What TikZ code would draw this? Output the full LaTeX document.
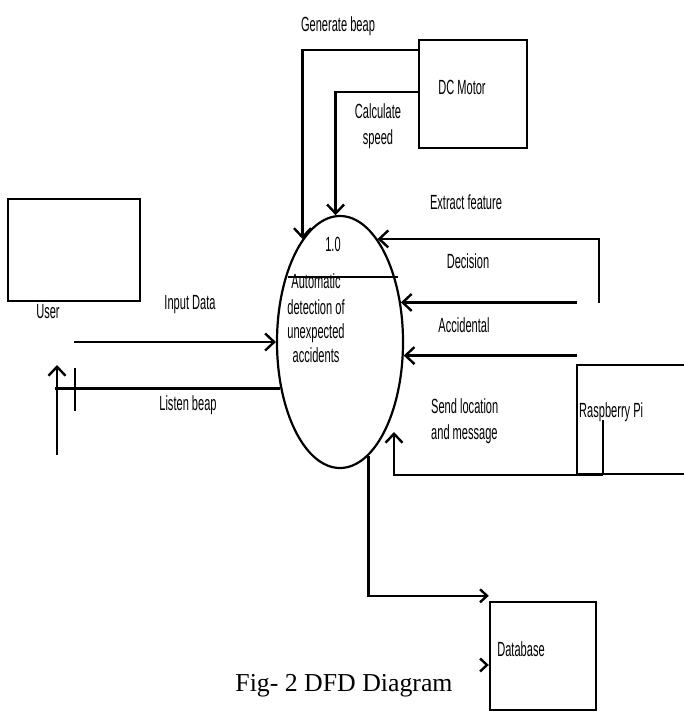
\documentclass[tikz,border=0pt]{standalone}
\usepackage{fontspec}
\usetikzlibrary{arrows.meta,shapes.geometric}
\newfontfamily\narrowfont[FakeStretch=0.54]{Liberation Sans}
\newfontfamily\capfont{Liberation Serif}
\begin{document}
\begin{tikzpicture}[x=1pt,y=-1pt,
  lbl/.style={inner sep=0pt, font=\narrowfont\fontsize{20.5}{24}\selectfont},
  box/.style={draw, line width=2.4pt, inner sep=0pt},
  conn/.style={line width=2.4pt},
  thinconn/.style={line width=1.6pt},
  arr/.style={conn, -{Straight Barb[length=9pt,width=17pt]}},
  sarr/.style={conn, -{Straight Barb[length=7pt,width=13pt]}},
]
\useasboundingbox (0,0) rectangle (684,711);
\clip (0,0) rectangle (684,711);

% boxes
\node[box, minimum width=132pt, minimum height=102pt] (user) at (74,250) {};
\node[box, minimum width=108pt, minimum height=108pt] (dc) at (473,94) {};
\node[box, minimum width=123pt, minimum height=109pt] (rp) at (638.5,419.5) {};
\node[box, minimum width=106pt, minimum height=108pt] (db) at (543,656) {};

% process
\node[draw, ellipse, line width=2.2pt, minimum width=126pt, minimum height=252pt, inner sep=0pt] (proc) at (340,342) {};
\draw[conn] ([xshift=-52pt,yshift=65pt]proc.center) -- ([xshift=58pt,yshift=65pt]proc.center);

% texts
\node[lbl] (tuser) at (48,312) {User};
\node[lbl] (tdc) at (462,87) {DC Motor};
\node[lbl, anchor=west] (trp) at (579,412) {Raspberry Pi};
\node[lbl] (tdb) at (521,649) {Database};
\node[lbl] (tnum) at (333,244) {1.0};
\node[lbl, align=center] (tproc) at (316,318) {Automatic\\[2pt]detection of\\unexpected\\accidents};
\node[lbl] (tgen) at (338,26) {Generate beap};
\node[lbl, align=center] (tcalc) at (378,126) {Calculate\\[2pt]speed};
\node[lbl] (text) at (466,202) {Extract feature};
\node[lbl] (tdec) at (468,261) {Decision};
\node[lbl] (tacc) at (464,325) {Accidental};
\node[lbl, align=left, anchor=west] (tsend) at (431,421) {Send location\\[2pt]and message};
\node[lbl] (tin) at (190,305) {Input Data};
\node[lbl] (tlis) at (188,405) {Listen beap};
\node[inner sep=0pt, font=\capfont\fontsize{25.8}{30}\selectfont] (cap) at (344,686) {Fig- 2 DFD Diagram};

% connectors
\draw[arr] ([yshift=44pt]dc.west) -| (proc.110);
\draw[arr] ([yshift=2pt]dc.west) -| (proc.92);

\coordinate (ef) at (599,303);
\draw[arr] (ef) |- (proc.70);
\coordinate (dec) at (577,303);
\draw[arr] (dec |- proc.33) -- (proc.33);
\coordinate (acc) at (577,355);
\draw[arr] (acc |- proc.-12) -- (proc.-12);

\coordinate (ind) at (74,342);
\draw[arr] (ind) -- (proc.west);

\coordinate (lb) at (55,388);
\draw[conn] (proc.218) -- (lb |- proc.218);
\coordinate (ua) at (57,455);
\coordinate (uatip) at (57,365);
\draw[arr] (ua) -- (uatip);
\coordinate (tk1) at (75,368);
\coordinate (tk2) at (75,411);
\draw[thinconn] (tk1) -- (tk2);

\coordinate (rpin) at (603,420);
\coordinate (sltip) at (394,432);
\draw[thinconn] (rpin) -- (rpin |- rp.south);
\draw[arr] (rpin |- rp.south) -| (sltip);

\draw[sarr] (proc.-76) |- ([yshift=5pt]db.north west);
\draw[sarr] ([xshift=-2pt,yshift=-9pt]db.west) -- ([yshift=-9pt]db.west);
\end{tikzpicture}
\end{document}
